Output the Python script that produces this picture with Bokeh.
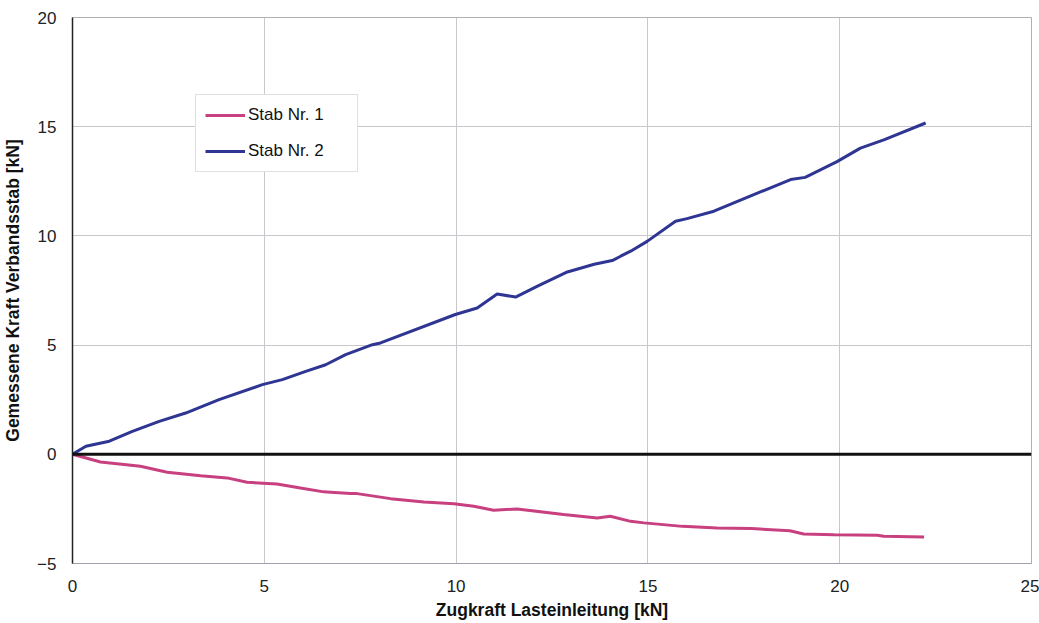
from bokeh.plotting import figure
from bokeh.models import Legend, LegendItem, Span, FixedTicker
from bokeh.embed import file_html
from bokeh.resources import INLINE

# Stab Nr. 1 (pink)
x1 = [0.0, 0.73, 1.77, 2.47, 3.34, 4.03, 4.55, 5.33, 5.94, 6.55, 6.73, 7.25, 7.42, 8.29, 9.16,
      9.94, 10.46, 10.98, 11.59, 12.8, 13.68, 14.02, 14.55, 14.9, 15.9, 16.8, 17.7, 18.7, 19.06,
      19.85, 20.98, 21.15, 22.2]
y1 = [0.0, -0.35, -0.55, -0.82, -0.98, -1.08, -1.28, -1.36, -1.54, -1.72, -1.74, -1.8, -1.8, -2.03, -2.18,
      -2.26, -2.38, -2.56, -2.5, -2.76, -2.92, -2.84, -3.07, -3.14, -3.3, -3.37, -3.4, -3.5, -3.65,
      -3.68, -3.71, -3.75, -3.79]

# Stab Nr. 2 (blue)
x2 = [0.0, 0.35, 0.96, 1.56, 2.26, 2.95, 3.82, 4.95, 5.47, 6.08, 6.6, 7.12, 7.82, 8.03, 9.98,
      10.55, 11.07, 11.55, 12.11, 12.9, 13.6, 14.07, 14.29, 14.55, 14.98, 15.72, 16.02, 16.72,
      17.76, 18.72, 19.1, 19.93, 20.54, 21.15, 22.24]
y2 = [0.0, 0.37, 0.6, 1.05, 1.51, 1.89, 2.5, 3.19, 3.42, 3.8, 4.1, 4.56, 5.02, 5.1, 6.4,
      6.7, 7.34, 7.2, 7.69, 8.35, 8.7, 8.87, 9.07, 9.3, 9.75, 10.67, 10.79, 11.13,
      11.89, 12.58, 12.68, 13.4, 14.02, 14.4, 15.17]

x_ticks = [0, 5, 10, 15, 20, 25]
y_ticks = [-5, 0, 5, 10, 15, 20]
series_names = ["Stab Nr. 1", "Stab Nr. 2"]

FONT = "Liberation Sans"

p = figure(width=1039, height=623, x_range=(0, 25), y_range=(-5, 20),
           output_backend="svg", toolbar_location=None,
           min_border_left=72, min_border_right=8, min_border_top=17, min_border_bottom=60)

p.background_fill_color = "white"
p.border_fill_color = "white"
p.outline_line_color = "#b0b0b0"
p.outline_line_width = 1

p.xaxis.ticker = FixedTicker(ticks=x_ticks)
p.yaxis.ticker = FixedTicker(ticks=y_ticks)
for ax in (p.xaxis[0], p.yaxis[0]):
    ax.major_tick_line_color = None
    ax.minor_tick_line_color = None
    ax.major_label_text_font = FONT
    ax.major_label_text_font_size = "17px"
    ax.major_label_text_color = "#222222"
    ax.axis_label_text_font = FONT
    ax.axis_label_text_font_size = "17.5px"
    ax.axis_label_text_font_style = "bold"
    ax.axis_label_text_color = "#111111"

p.xaxis.axis_label = "Zugkraft Lasteinleitung [kN]"
p.yaxis.axis_label = "Gemessene Kraft Verbandsstab [kN]"
p.xaxis.axis_line_color = "#a0a0b0"
p.yaxis.axis_line_color = "#222222"
p.yaxis.axis_line_width = 1.5
p.xaxis.major_label_standoff = 10
p.yaxis.major_label_standoff = 10
p.xaxis.axis_label_standoff = 5
p.yaxis.axis_label_standoff = 11

p.grid.grid_line_color = "#c8c8cc"
p.grid.grid_line_width = 1

zero = Span(location=0, dimension="width", line_color="#111111", line_width=3)
p.add_layout(zero)

r1 = p.line(x1, y1, line_color="#c8407f", line_width=3)
r2 = p.line(x2, y2, line_color="#2e3592", line_width=3)

legend = Legend(items=[LegendItem(label=series_names[0], renderers=[r1]),
                       LegendItem(label=series_names[1], renderers=[r2])],
                location=(123, 391))
legend.label_text_font = FONT
legend.label_text_font_size = "17px"
legend.label_text_color = "#111111"
legend.glyph_width = 40
legend.glyph_height = 22
legend.label_standoff = 3
legend.spacing = 14
legend.padding = 9
legend.margin = 0
legend.border_line_color = "#c0c0c0"
legend.border_line_width = 1
legend.background_fill_alpha = 1
legend.label_width = 100
p.add_layout(legend)

open("out.html", "w").write(file_html(p, INLINE))
